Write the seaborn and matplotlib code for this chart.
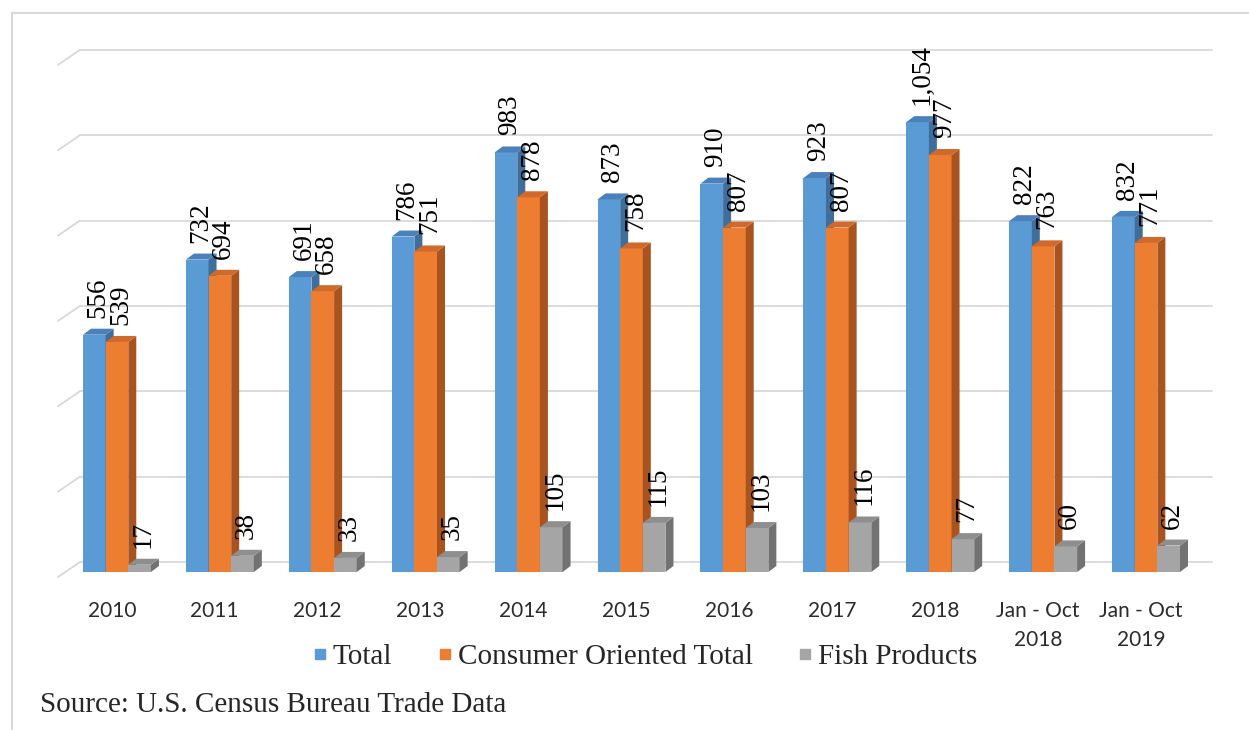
import matplotlib
matplotlib.use("Agg")
import matplotlib.pyplot as plt
import matplotlib.transforms as mtransforms
from matplotlib.patches import Polygon, Rectangle
from matplotlib.lines import Line2D
import seaborn as sns
import pandas as pd
import numpy as np

# data
categories = ["2010", "2011", "2012", "2013", "2014", "2015", "2016", "2017", "2018",
              "Jan - Oct\n2018", "Jan - Oct\n2019"]
total = [556, 732, 691, 786, 983, 873, 910, 923, 1054, 822, 832]
consumer = [539, 694, 658, 751, 878, 758, 807, 807, 977, 763, 771]
fish = [17, 38, 33, 35, 105, 115, 103, 116, 77, 60, 62]
series = ["Total", "Consumer Oriented Total", "Fish Products"]

# front / top / side colours of the pseudo-3D bars
front = ["#5B9BD5", "#ED7D31", "#A5A5A5"]
top = ["#4A80BC", "#D0692A", "#8E8E8E"]
side = ["#3F6E9B", "#A9541F", "#727272"]

df = pd.DataFrame({
    "year": categories * 3,
    "value": total + consumer + fish,
    "series": [series[0]] * 11 + [series[1]] * 11 + [series[2]] * 11,
})

sns.set_style("white")
W, H = 1249, 730
fig = plt.figure(figsize=(W / 100, H / 100), dpi=100)
fig.patch.set_facecolor("white")

# axes = front plane of the chart
ax = fig.add_axes([58 / W, 1 - 572 / H, (1212 - 58) / W, (572 - 49) / H])
sns.barplot(data=df, x="year", y="value", hue="series", hue_order=series,
            order=categories, palette=front, saturation=1, width=0.66,
            legend=False, ax=ax)
ax.set_xlim(-0.573, 10.641)
ax.set_ylim(0, 1225.4)
for s in ax.spines.values():
    s.set_visible(False)
ax.set_yticks([])
ax.set_xlabel("")
ax.set_ylabel("")
ax.set_xticks(np.arange(len(categories)) - 0.05)
ax.set_xticklabels(categories, fontfamily="Lato", fontsize=15, color="#2b2b2b",
                   linespacing=1.55, va="top")
ax.tick_params(axis="x", length=0, pad=21)

# back wall gridlines (0..1200), with the short slanted piece on the left
blend = mtransforms.blended_transform_factory(ax.transAxes, ax.transData)
back = mtransforms.offset_copy(blend, fig=fig, x=0, y=10, units="dots")
for v in range(0, 1201, 200):
    ax.add_line(Line2D([0.019, 1.0], [v, v], color="#d9d9d9", lw=1.3, zorder=1,
                       clip_on=False, transform=back))
    p0 = blend.transform((0.0, v)) + np.array([0, -5])
    p1 = blend.transform((0.019, v)) + np.array([0, 10])
    ax.add_line(Line2D([p0[0], p1[0]], [p0[1], p1[1]], color="#d9d9d9", lw=1.3,
                       zorder=1, clip_on=False, transform=None))

# pseudo-3D faces and value labels
sx = ax.transData.transform((1, 0))[0] - ax.transData.transform((0, 0))[0]
sy = ax.transData.transform((0, 1))[1] - ax.transData.transform((0, 0))[1]
dx, dy = 8 / sx, 6 / sy
for k, cont in enumerate(ax.containers):
    for bar in cont:
        x0, w, h = bar.get_x(), bar.get_width(), bar.get_height()
        bar.set_zorder(3 + k)
        bar.set_edgecolor("none")
        ax.add_patch(Polygon([(x0 + w, 0), (x0 + w, h), (x0 + w + dx, h + dy),
                              (x0 + w + dx, dy)], closed=True, fc=side[k], ec="none",
                             zorder=3 + k))
        ax.add_patch(Polygon([(x0, h), (x0 + w, h), (x0 + w + dx, h + dy),
                              (x0 + dx, h + dy)], closed=True, fc=top[k], ec="none",
                             zorder=3 + k))
        ax.annotate(f"{h:,.0f}", (x0 + w / 2, h), xytext=(4, 17),
                    textcoords="offset pixels", rotation=90, ha="center", va="bottom",
                    fontfamily="Liberation Serif", fontsize=19.5, color="black",
                    zorder=10, annotation_clip=False)

# legend
handles = [Line2D([], [], marker="s", ls="", color=c, markersize=7.5) for c in front]
fig.legend(handles, series, loc="center", bbox_to_anchor=(0.517, 1 - 657 / H),
           ncol=3, frameon=False, handlelength=0.4, handletextpad=0.25,
           columnspacing=1.6, prop={"family": "Liberation Serif", "size": 21})

fig.text(40 / W, 1 - 705 / H, "Source: U.S. Census Bureau Trade Data", ha="left",
         va="center", fontfamily="Liberation Serif", fontsize=21)

# chart frame
fig.add_artist(Rectangle((12 / W, -0.1), 1.2, 1 - 13 / H + 0.1, transform=fig.transFigure,
                         fill=False, ec="#d9d9d9", lw=1.5))

fig.savefig("out.png", dpi=100)
